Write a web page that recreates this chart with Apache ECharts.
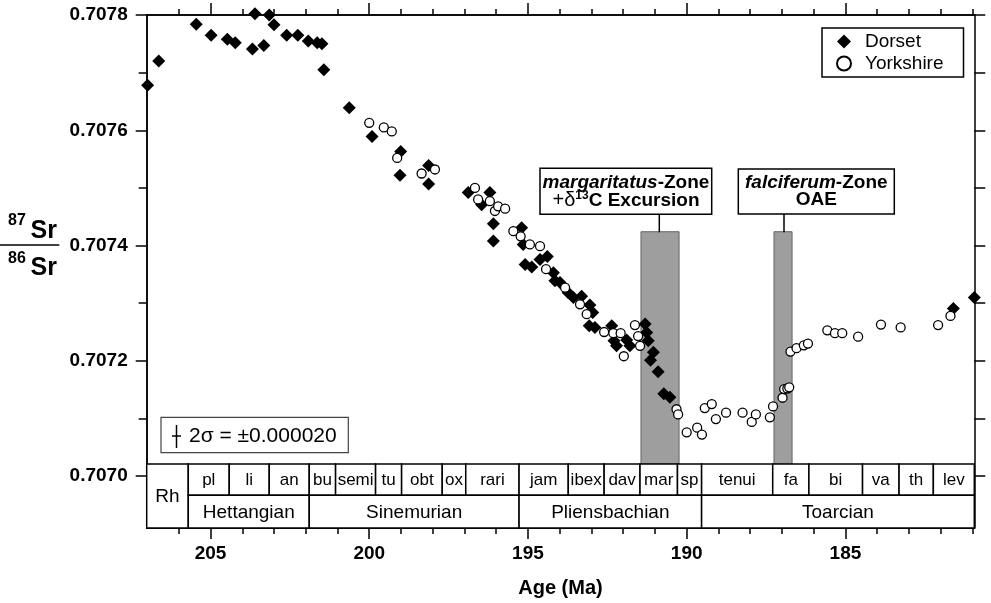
<!DOCTYPE html>
<html>
<head>
<meta charset="utf-8">
<script src="https://cdn.jsdelivr.net/npm/echarts@6/dist/echarts.min.js"></script>
<style>
  html, body { margin: 0; padding: 0; background: #fff; }
  #chart { width: 991px; height: 603px; }
</style>
</head>
<body>
<div id="chart"></div>
<script>
var FONT = '"Liberation Sans", Arial, Helvetica, sans-serif';

// Dorset samples (filled diamonds): age in Ma, 87Sr/86Sr
var dorsetAge = [206.98, 206.63, 205.45, 204.98, 204.47, 204.22, 203.68, 203.60, 203.32, 203.15,
  203.00, 202.60, 202.25, 201.92, 201.64, 201.49, 201.43, 200.63, 199.91, 199.01,
  199.03, 198.13, 198.13, 196.88, 196.46, 196.20, 196.09, 196.09, 195.20, 195.15,
  195.09, 194.88, 194.62, 194.39, 194.20, 194.15, 193.99, 193.73, 193.57, 193.31,
  193.05, 192.96, 193.07, 192.89, 192.36, 192.29, 192.21, 191.89, 191.79, 191.31,
  191.26, 191.21, 191.05, 191.14, 190.90, 190.72, 190.53, 181.60, 180.94];
var dorsetSr = [0.707678, 0.707720, 0.707784, 0.707765, 0.707758, 0.707752, 0.707741, 0.707802, 0.707747, 0.707800,
  0.707783, 0.707765, 0.707765, 0.707755, 0.707752, 0.707750, 0.707705, 0.707639, 0.707589, 0.707563,
  0.707522, 0.707539, 0.707507, 0.707492, 0.707471, 0.707492, 0.707438, 0.707408, 0.707431, 0.707402,
  0.707367, 0.707363, 0.707376, 0.707381, 0.707353, 0.707339, 0.707336, 0.707318, 0.707310, 0.707312,
  0.707297, 0.707284, 0.707261, 0.707258, 0.707261, 0.707235, 0.707226, 0.707236, 0.707226, 0.707264,
  0.707249, 0.707235, 0.707215, 0.707201, 0.707181, 0.707143, 0.707137, 0.707291, 0.707310];

// Yorkshire samples (open circles)
var yorkshireAge = [200.00, 199.54, 199.29, 199.12, 198.35, 197.93, 196.67, 196.57, 196.20, 196.04,
  195.94, 195.72, 195.46, 195.23, 194.94, 194.62, 194.43, 193.83, 193.36, 193.15,
  192.60, 192.31, 192.08, 191.98, 191.63, 191.53, 191.47, 190.32, 190.27, 190.00,
  189.67, 189.52, 189.43, 189.21, 189.08, 188.76, 188.24, 187.95, 187.82, 187.38,
  187.28, 186.98, 186.93, 186.83, 186.77, 186.73, 186.54, 186.31, 186.18, 185.57,
  185.33, 185.10, 184.60, 183.88, 183.26, 182.08, 181.69];
var yorkshireSr = [0.707613, 0.707605, 0.707598, 0.707552, 0.707525, 0.707532, 0.707500, 0.707480, 0.707477, 0.707460,
  0.707468, 0.707464, 0.707425, 0.707416, 0.707402, 0.707399, 0.707359, 0.707327, 0.707298, 0.707281,
  0.707250, 0.707248, 0.707248, 0.707208, 0.707262, 0.707243, 0.707226, 0.707116, 0.707107, 0.707076,
  0.707084, 0.707072, 0.707118, 0.707125, 0.707099, 0.707110, 0.707110, 0.707094, 0.707107, 0.707102,
  0.707121, 0.707136, 0.707151, 0.707152, 0.707154, 0.707216, 0.707222, 0.707227, 0.707230, 0.707253,
  0.707248, 0.707248, 0.707242, 0.707263, 0.707258, 0.707262, 0.707278];

// ammonite zones and stages (edges in Ma, older first)
var zoneNames = ['pl', 'li', 'an', 'bu', 'semi', 'tu', 'obt', 'ox', 'rari', 'jam',
  'ibex', 'dav', 'mar', 'sp', 'tenui', 'fa', 'bi', 'va', 'th', 'lev'];
var zoneEdges = [205.70, 204.41, 203.15, 201.89, 201.06, 199.80, 198.98, 197.70, 196.96, 195.28,
  193.73, 192.60, 191.47, 190.29, 189.53, 187.29, 186.15, 184.46, 183.31, 182.23, 180.94];
var stageNames = ['Rh', 'Hettangian', 'Sinemurian', 'Pliensbachian', 'Toarcian'];
var stageEdges = [207.01, 205.70, 201.89, 195.28, 189.53, 180.94];

// shaded event intervals: margaritatus-Zone, falciferum-Zone
var eventStart = [191.44, 187.25];
var eventEnd = [190.24, 186.68];

var ageMajorTicks = [205, 200, 195, 190, 185];
var ageMinorTicks = [206, 204, 203, 202, 201, 199, 198, 197, 196, 194, 193, 192, 191,
  189, 188, 187, 186, 184, 183, 182, 181];
var srMajorTicks = [0.7070, 0.7072, 0.7074, 0.7076, 0.7078];
var srMinorTicks = [0.7071, 0.7073, 0.7075, 0.7077];
var srAllTicks = [0.7070, 0.7071, 0.7072, 0.7073, 0.7074, 0.7075, 0.7076, 0.7077, 0.7078];

var ageMin = 180.94, ageMax = 207.01;
var srMin = 0.70691, srMax = 0.7078;
var tableTop = 0.707021, tableMid = 0.706967, barTop = 0.707424;

// table cells
var cells = [];
cells.push({ x0: stageEdges[0], x1: stageEdges[1], y0: tableTop, y1: srMin, label: stageNames[0], size: 19 });
for (var i = 0; i < zoneNames.length; i++) {
  cells.push({ x0: zoneEdges[i], x1: zoneEdges[i + 1], y0: tableTop, y1: tableMid, label: zoneNames[i], size: 17 });
}
for (var j = 1; j < stageNames.length; j++) {
  cells.push({ x0: stageEdges[j], x1: stageEdges[j + 1], y0: tableMid, y1: srMin, label: stageNames[j], size: 19 });
}

var black = '#000';

function ageAxis(pos, ticks, len, withLabels) {
  return {
    type: 'value', position: pos, inverse: true, min: ageMin, max: ageMax,
    axisLine: { show: true, onZero: false, lineStyle: { color: black, width: 1.5 } },
    axisTick: { show: true, customValues: ticks, length: len, lineStyle: { color: black, width: 1.5 } },
    axisLabel: {
      show: withLabels, customValues: ticks, margin: 16,
      color: black, fontFamily: FONT, fontWeight: 'bold', fontSize: 19
    },
    splitLine: { show: false }
  };
}

function srAxis(pos, ticks, len, withLabels) {
  return {
    type: 'value', position: pos, min: srMin, max: srMax,
    axisLine: { show: true, onZero: false, lineStyle: { color: black, width: 1.5 } },
    axisTick: { show: true, customValues: ticks, length: len, lineStyle: { color: black, width: 1.5 } },
    axisLabel: {
      show: withLabels, customValues: ticks, margin: 19,
      color: black, fontFamily: FONT, fontWeight: 'bold', fontSize: 19,
      formatter: function (v) { return v.toFixed(4); }
    },
    splitLine: { show: false }
  };
}

var xMain = ageAxis('bottom', ageMajorTicks, 11, true);
xMain.name = 'Age (Ma)';
xMain.nameLocation = 'middle';
xMain.nameGap = 50;
xMain.nameTextStyle = { color: black, fontFamily: FONT, fontWeight: 'bold', fontSize: 20 };

var chart = echarts.init(document.getElementById('chart'));

chart.setOption({
  animation: false,
  backgroundColor: '#fff',
  grid: { left: 146.7, right: 16.7, top: 15, bottom: 74 },
  xAxis: [
    xMain,
    ageAxis('bottom', ageMinorTicks, 6, false),
    ageAxis('top', ageMajorTicks, 12, false),
    ageAxis('top', ageMinorTicks, 6, false)
  ],
  yAxis: [
    srAxis('left', srMajorTicks, 11, true),
    srAxis('left', srMinorTicks, 8, false),
    srAxis('right', srAllTicks, 11, false)
  ],
  legend: {
    orient: 'vertical', left: 822, top: 28,
    padding: [4, 20, 4, 14], itemGap: 3, itemWidth: 14, itemHeight: 14,
    borderColor: black, borderWidth: 1.5, backgroundColor: '#fff',
    selectedMode: false,
    textStyle: { color: black, fontFamily: FONT, fontSize: 19, lineHeight: 18, padding: [0, 0, 0, 9] },
    data: ['Dorset', 'Yorkshire']
  },
  series: [
    {
      type: 'custom', name: 'events', z: 1, silent: true,
      data: eventStart.map(function (s, k) { return [s, eventEnd[k], barTop, tableTop]; }),
      encode: { x: [0, 1], y: [2, 3] },
      renderItem: function (params, api) {
        var p0 = api.coord([api.value(0), api.value(2)]);
        var p1 = api.coord([api.value(1), api.value(3)]);
        return {
          type: 'rect',
          shape: { x: Math.min(p0[0], p1[0]), y: Math.min(p0[1], p1[1]),
                   width: Math.abs(p1[0] - p0[0]), height: Math.abs(p1[1] - p0[1]) },
          style: { fill: '#9e9e9e', stroke: '#666', lineWidth: 1 }
        };
      }
    },
    {
      type: 'custom', name: 'zones', z: 2, silent: true,
      data: cells.map(function (c) { return [c.x0, c.x1, c.y0, c.y1]; }),
      encode: { x: [0, 1], y: [2, 3] },
      renderItem: function (params, api) {
        var c = cells[params.dataIndex];
        var p0 = api.coord([api.value(0), api.value(2)]);
        var p1 = api.coord([api.value(1), api.value(3)]);
        var x = Math.min(p0[0], p1[0]), y = Math.min(p0[1], p1[1]);
        var w = Math.abs(p1[0] - p0[0]), h = Math.abs(p1[1] - p0[1]);
        return {
          type: 'group',
          children: [
            { type: 'rect', shape: { x: x, y: y, width: w, height: h },
              style: { fill: '#fff', stroke: black, lineWidth: 1.5 } },
            { type: 'text',
              style: { text: c.label, x: x + w / 2, y: y + h / 2 + 1, align: 'center', verticalAlign: 'middle',
                       fontFamily: FONT, fontSize: c.size, fill: black } }
          ]
        };
      }
    },
    {
      name: 'Dorset', type: 'scatter', z: 3, clip: false,
      symbol: 'diamond', symbolSize: 13,
      itemStyle: { color: black, opacity: 1 },
      data: dorsetAge.map(function (a, k) { return [a, dorsetSr[k]]; })
    },
    {
      name: 'Yorkshire', type: 'scatter', z: 4, clip: false,
      symbol: 'circle', symbolSize: 9,
      itemStyle: { color: '#fff', borderColor: black, borderWidth: 1.3, opacity: 1 },
      data: yorkshireAge.map(function (a, k) { return [a, yorkshireSr[k]]; })
    }
  ],
  graphic: [
    // y axis title: 87Sr / 86Sr
    { type: 'text', x: 8, y: 221, style: { text: '87', fontFamily: FONT, fontWeight: 'bold', fontSize: 16, fill: black, verticalAlign: 'middle' } },
    { type: 'text', x: 30.5, y: 231, style: { text: 'Sr', fontFamily: FONT, fontWeight: 'bold', fontSize: 25, fill: black, verticalAlign: 'middle' } },
    { type: 'line', shape: { x1: 0, y1: 245, x2: 59.3, y2: 245 }, style: { stroke: black, lineWidth: 1.5 } },
    { type: 'text', x: 8, y: 259, style: { text: '86', fontFamily: FONT, fontWeight: 'bold', fontSize: 16, fill: black, verticalAlign: 'middle' } },
    { type: 'text', x: 30.5, y: 268.5, style: { text: 'Sr', fontFamily: FONT, fontWeight: 'bold', fontSize: 25, fill: black, verticalAlign: 'middle' } },

    // margaritatus annotation
    { type: 'rect', z: 10, shape: { x: 540, y: 168.3, width: 171.7, height: 46 }, style: { fill: '#fff', stroke: black, lineWidth: 1.5 } },
    { type: 'text', z: 11, x: 626, y: 182.5, style: {
        text: '{i|margaritatus}{b|-Zone}', align: 'center', verticalAlign: 'middle', fill: black,
        rich: { i: { fontFamily: FONT, fontWeight: 'bold', fontStyle: 'italic', fontSize: 19 },
                b: { fontFamily: FONT, fontWeight: 'bold', fontSize: 19 } } } },
    { type: 'text', z: 11, x: 626, y: 200, style: {
        text: '{p|+δ}{s|13}{b|C Excursion}', align: 'center', verticalAlign: 'middle', fill: black,
        rich: { p: { fontFamily: FONT, fontSize: 20, lineHeight: 20, verticalAlign: 'bottom' },
                s: { fontFamily: FONT, fontWeight: 'bold', fontSize: 12, lineHeight: 14, verticalAlign: 'top' },
                b: { fontFamily: FONT, fontWeight: 'bold', fontSize: 19, lineHeight: 20, verticalAlign: 'bottom' } } } },
    { type: 'line', z: 10, shape: { x1: 659.3, y1: 214.3, x2: 659.3, y2: 232.3 }, style: { stroke: black, lineWidth: 1.5 } },

    // falciferum annotation
    { type: 'rect', z: 10, shape: { x: 738.3, y: 169, width: 156, height: 45 }, style: { fill: '#fff', stroke: black, lineWidth: 1.5 } },
    { type: 'text', z: 11, x: 816.3, y: 182.5, style: {
        text: '{i|falciferum}{b|-Zone}', align: 'center', verticalAlign: 'middle', fill: black,
        rich: { i: { fontFamily: FONT, fontWeight: 'bold', fontStyle: 'italic', fontSize: 19 },
                b: { fontFamily: FONT, fontWeight: 'bold', fontSize: 19 } } } },
    { type: 'text', z: 11, x: 816.3, y: 200, style: {
        text: 'OAE', align: 'center', verticalAlign: 'middle', fill: black,
        fontFamily: FONT, fontWeight: 'bold', fontSize: 19 } },
    { type: 'line', z: 10, shape: { x1: 784, y1: 214, x2: 784, y2: 232.3 }, style: { stroke: black, lineWidth: 1.5 } },

    // 2 sigma error box
    { type: 'rect', z: 10, shape: { x: 161, y: 417.3, width: 187.3, height: 35.4 }, style: { fill: '#fff', stroke: '#444', lineWidth: 1.2 } },
    { type: 'line', z: 11, shape: { x1: 176.5, y1: 425, x2: 176.5, y2: 448 }, style: { stroke: black, lineWidth: 1.5 } },
    { type: 'line', z: 11, shape: { x1: 172, y1: 436, x2: 181, y2: 436 }, style: { stroke: black, lineWidth: 1.5 } },
    { type: 'text', z: 11, x: 189, y: 436, style: {
        text: '2σ = ±0.000020', verticalAlign: 'middle', fill: black, fontFamily: FONT, fontSize: 21 } }
  ]
});
</script>
</body>
</html>
